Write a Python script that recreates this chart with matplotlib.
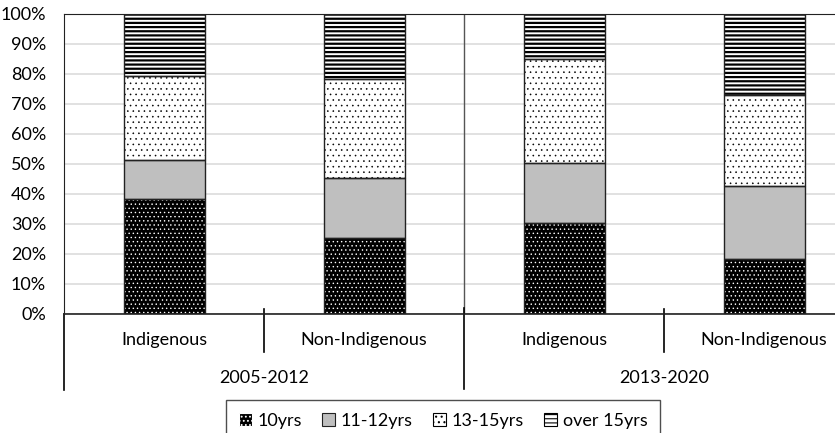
import matplotlib.pyplot as plt
from matplotlib.patches import Patch
from matplotlib.ticker import PercentFormatter

plt.rcParams["font.family"] = ["Lato", "DejaVu Sans"]

periods = ["2005-2012", "2013-2020"]
groups = ["Indigenous", "Non-Indigenous", "Indigenous", "Non-Indigenous"]
age_bands = ["10yrs", "11-12yrs", "13-15yrs", "over 15yrs"]

# share of each age band (percent), one value per bar
share_10 = [38.2, 25.4, 30.2, 18.3]
share_11_12 = [13.1, 20.0, 20.2, 24.4]
share_13_15 = [28.0, 32.9, 34.6, 30.2]
share_over_15 = [20.7, 21.7, 15.0, 27.1]

FS = 13
W, H = 835, 433
fig = plt.figure(figsize=(W / 100, H / 100), dpi=100)
# plot area is wider than the canvas, so the right edge runs off the figure
ax = fig.add_axes([64 / W, (H - 314) / H, 800 / W, 300 / H])

x = list(range(len(groups)))
bar_w = 0.405

# (values, face, hatch, hatch colour, hatch line width)
styles = [
    (share_10, "black", "....", "white", 0.5),
    (share_11_12, "#bfbfbf", None, None, 1.0),
    (share_13_15, "white", "...", "black", 0.4),
    (share_over_15, "white", "----", "black", 1.6),
]

bottom = [0.0] * len(groups)
handles = []
for (vals, face, hatch, hcol, hlw), label in zip(styles, age_bands):
    plt.rcParams["hatch.linewidth"] = hlw
    if hatch:
        ax.bar(x, vals, bar_w, bottom=bottom, color=face, edgecolor=hcol,
               hatch=hatch, linewidth=0, zorder=2)
    else:
        ax.bar(x, vals, bar_w, bottom=bottom, color=face, linewidth=0, zorder=2)
    ax.bar(x, vals, bar_w, bottom=bottom, fill=False, edgecolor="#222222",
           linewidth=1.0, zorder=3)
    bottom = [b + v for b, v in zip(bottom, vals)]
    handles.append(Patch(facecolor=face, edgecolor="#222222" if not hatch else hcol,
                         hatch=hatch, linewidth=0.8, label=label))
plt.rcParams["hatch.linewidth"] = 1.0

ax.set_xlim(-0.5, len(groups) - 0.5)
ax.set_ylim(0, 100)
ax.set_yticks(range(0, 101, 10))
ax.yaxis.set_major_formatter(PercentFormatter(decimals=0))
ax.tick_params(axis="y", length=0, pad=13, labelsize=FS)
ax.set_xticks([])
ax.grid(axis="y", color="#dcdcdc", linewidth=1.2, zorder=0)
ax.set_axisbelow(True)

ax.spines["right"].set_visible(False)
ax.spines["top"].set_color("#222222")
ax.spines["left"].set_color("#222222")
ax.spines["bottom"].set_color("#222222")
ax.spines["bottom"].set_linewidth(1.2)

# divider between the two periods inside the plot
ax.axvline(1.5, color="#555555", linewidth=1.0, zorder=1)

# two-level category axis drawn below the plot
trans = ax.get_xaxis_transform()
px = 1 / 300  # one pixel in axes-y units
ax.plot([-0.5, -0.5], [0, -76 * px], transform=trans, color="black", lw=1.2, clip_on=False)
ax.plot([1.5, 1.5], [6 * px, -75 * px], transform=trans, color="black", lw=1.2, clip_on=False)
for xb in [0.5, 2.5]:
    ax.plot([xb, xb], [5 * px, -38 * px], transform=trans, color="black", lw=1.2, clip_on=False)

for xi, g in zip(x, groups):
    ax.text(xi, -26 * px, g, transform=trans, ha="center", va="center", fontsize=FS)
for i, p in enumerate(periods):
    ax.text(2 * i + 0.5, -64 * px, p, transform=trans, ha="center", va="center", fontsize=FS)

plt.rcParams["hatch.linewidth"] = 0.8
leg = fig.legend(handles=handles, loc="upper center", ncol=4,
                 bbox_to_anchor=(443 / W, (H - 400) / H), frameon=True, fancybox=False,
                 fontsize=FS, handlelength=0.75, handleheight=0.75, handletextpad=0.3,
                 columnspacing=1.1, borderpad=0.7, borderaxespad=0)
leg.get_frame().set_edgecolor("#222222")
leg.get_frame().set_linewidth(1.0)

fig.savefig("out.png", dpi=100)
